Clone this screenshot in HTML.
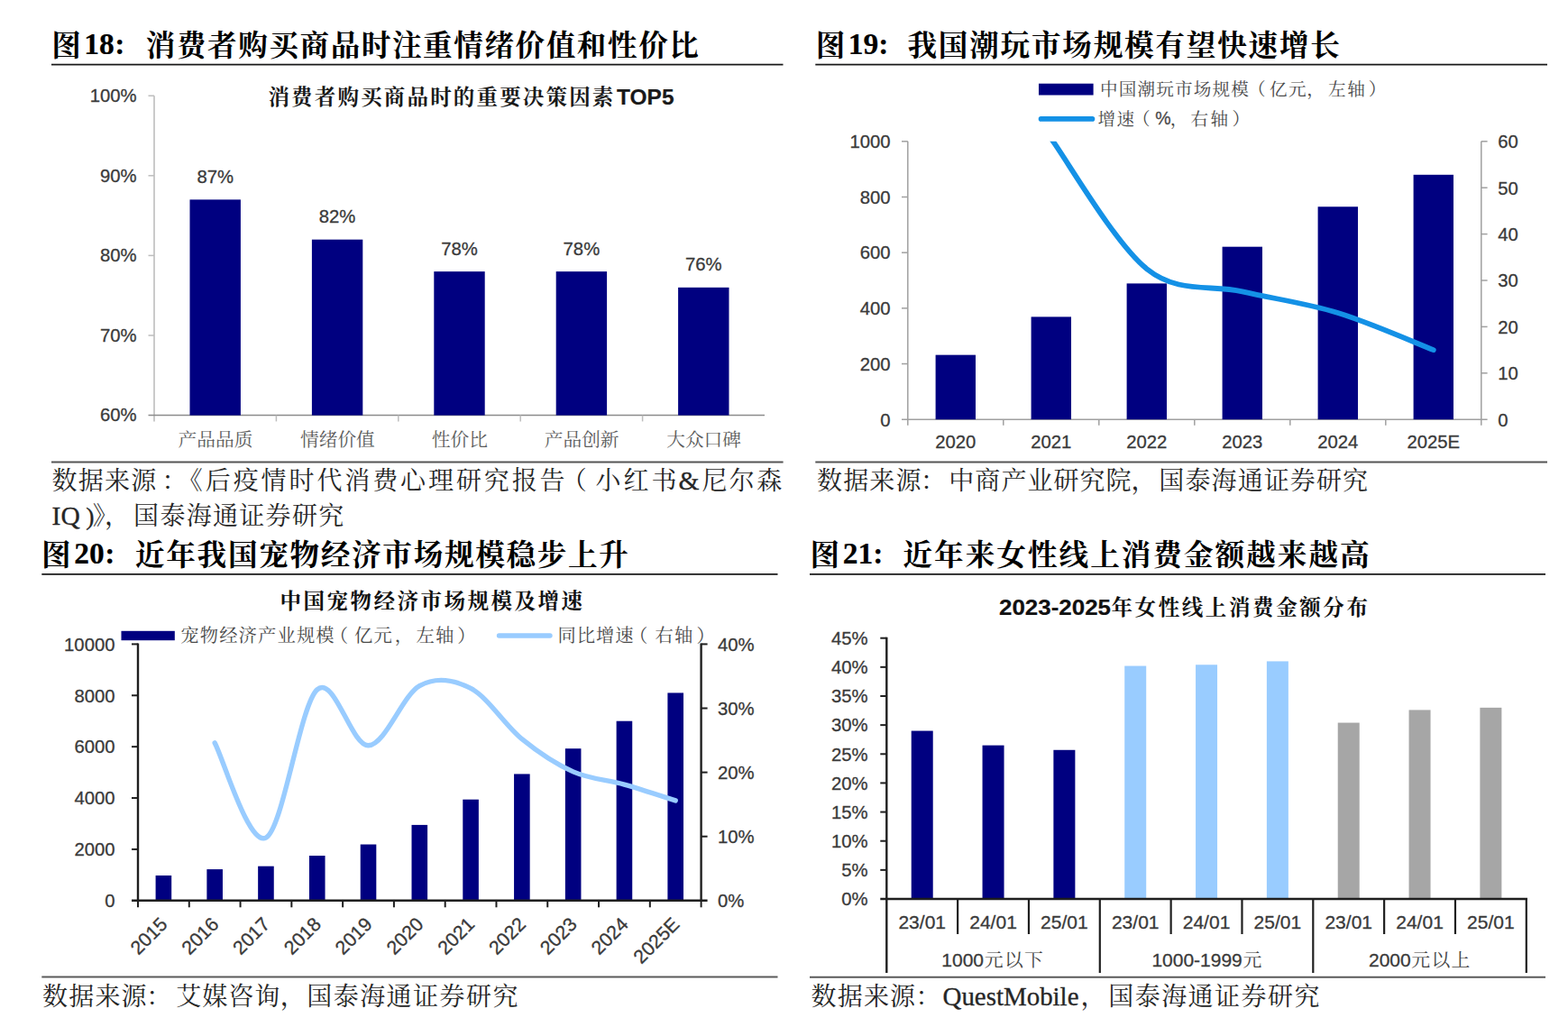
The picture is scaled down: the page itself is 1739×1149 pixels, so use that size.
<!DOCTYPE html>
<html lang="zh-CN">
<head>
<meta charset="utf-8">
<title>消费行业研究图表 图18-图21</title>
<style>
html,body{margin:0;padding:0;background:#fff}
body{width:1739px;height:1149px;position:relative;overflow:hidden;font-family:"Liberation Sans",sans-serif}
svg{position:absolute;left:0;top:0;display:block}
svg text{font-family:"Liberation Sans",sans-serif;white-space:pre}
svg text.cj{font-family:"Liberation Serif","Noto Serif CJK SC",serif}
</style>
</head>
<body>
<svg width="1739" height="1149" viewBox="0 0 1739 1149">
<text class="cj" x="57.16" y="61.6" font-size="32.6" font-weight="bold" fill="#000">图</text>
<text x="93.2" y="60.1" font-size="33.5" fill="#000" font-weight="bold" style="font-family:&quot;Liberation Serif&quot;,serif" stroke="#000" stroke-width=".2">18</text>
<text x="127.3" y="60.1" font-size="33.5" fill="#000" font-weight="bold" style="font-family:&quot;Liberation Serif&quot;,serif" stroke="#000" stroke-width=".2">:</text>
<text class="cj" x="161.78" y="61.6" font-size="32.6" font-weight="bold" fill="#000" letter-spacing="1.57">消费者购买商品时注重情绪价值和性价比</text>
<line x1="57" y1="71.6" x2="868.5" y2="71.6" stroke="#1a1a1a" stroke-width="1.7"/>
<text class="cj" x="297.45" y="116" font-size="23.5" font-weight="bold" fill="#1a1a1a" letter-spacing="2.17">消费者购买商品时的重要决策因素</text>
<text x="684" y="115.6" font-size="23.6" fill="#1a1a1a" font-weight="bold" stroke="#1a1a1a" stroke-width=".2" textLength="63.5" lengthAdjust="spacingAndGlyphs">TOP5</text>
<line x1="171" y1="106.2" x2="171" y2="467.4" stroke="#bdbdbd" stroke-width="1.6"/>
<line x1="164.5" y1="460.6" x2="848" y2="460.6" stroke="#8c8c8c" stroke-width="1.5"/>
<line x1="164.5" y1="106.2" x2="171" y2="106.2" stroke="#bdbdbd" stroke-width="1.5"/>
<text x="151.6" y="113" font-size="20.3" fill="#3a3a3a" text-anchor="end" stroke="#3a3a3a" stroke-width=".3">100%</text>
<line x1="164.5" y1="194.8" x2="171" y2="194.8" stroke="#bdbdbd" stroke-width="1.5"/>
<text x="151.6" y="201.6" font-size="20.3" fill="#3a3a3a" text-anchor="end" stroke="#3a3a3a" stroke-width=".3">90%</text>
<line x1="164.5" y1="283.4" x2="171" y2="283.4" stroke="#bdbdbd" stroke-width="1.5"/>
<text x="151.6" y="290.2" font-size="20.3" fill="#3a3a3a" text-anchor="end" stroke="#3a3a3a" stroke-width=".3">80%</text>
<line x1="164.5" y1="372" x2="171" y2="372" stroke="#bdbdbd" stroke-width="1.5"/>
<text x="151.6" y="378.8" font-size="20.3" fill="#3a3a3a" text-anchor="end" stroke="#3a3a3a" stroke-width=".3">70%</text>
<text x="151.6" y="467.4" font-size="20.3" fill="#3a3a3a" text-anchor="end" stroke="#3a3a3a" stroke-width=".3">60%</text>
<line x1="306.4" y1="460.6" x2="306.4" y2="467.4" stroke="#bdbdbd" stroke-width="1.5"/>
<line x1="441.8" y1="460.6" x2="441.8" y2="467.4" stroke="#bdbdbd" stroke-width="1.5"/>
<line x1="577.2" y1="460.6" x2="577.2" y2="467.4" stroke="#bdbdbd" stroke-width="1.5"/>
<line x1="712.6" y1="460.6" x2="712.6" y2="467.4" stroke="#bdbdbd" stroke-width="1.5"/>
<rect x="210.5" y="221.38" width="56.4" height="239.22" fill="#000080"/>
<text x="238.7" y="202.78" font-size="20.3" fill="#3a3a3a" text-anchor="middle" stroke="#3a3a3a" stroke-width=".3">87%</text>
<text class="cj" x="197.6" y="495" font-size="20.7" fill="#5c5c5c">产品品质</text>
<rect x="345.9" y="265.68" width="56.4" height="194.92" fill="#000080"/>
<text x="374.1" y="247.08" font-size="20.3" fill="#3a3a3a" text-anchor="middle" stroke="#3a3a3a" stroke-width=".3">82%</text>
<text class="cj" x="333" y="495" font-size="20.7" fill="#5c5c5c">情绪价值</text>
<rect x="481.3" y="301.12" width="56.4" height="159.48" fill="#000080"/>
<text x="509.5" y="282.52" font-size="20.3" fill="#3a3a3a" text-anchor="middle" stroke="#3a3a3a" stroke-width=".3">78%</text>
<text class="cj" x="478.75" y="495" font-size="20.7" fill="#5c5c5c">性价比</text>
<rect x="616.7" y="301.12" width="56.4" height="159.48" fill="#000080"/>
<text x="644.9" y="282.52" font-size="20.3" fill="#3a3a3a" text-anchor="middle" stroke="#3a3a3a" stroke-width=".3">78%</text>
<text class="cj" x="603.8" y="495" font-size="20.7" fill="#5c5c5c">产品创新</text>
<rect x="752.1" y="318.84" width="56.4" height="141.76" fill="#000080"/>
<text x="780.3" y="300.24" font-size="20.3" fill="#3a3a3a" text-anchor="middle" stroke="#3a3a3a" stroke-width=".3">76%</text>
<text class="cj" x="739.2" y="495" font-size="20.7" fill="#5c5c5c">大众口碑</text>
<line x1="57" y1="512.5" x2="868.6" y2="512.5" stroke="#555" stroke-width="2"/>
<text class="cj" x="57.6" y="543.3" font-size="28" fill="#262626" letter-spacing="1.2">数据来源</text>
<text class="cj" x="179.53" y="543.3" font-size="28" fill="#262626">：</text>
<text class="cj" x="196.77" y="543.3" font-size="28" fill="#262626">《</text>
<text class="cj" x="227.8" y="543.3" font-size="28" fill="#262626" letter-spacing="2.9">后疫情时代消费心理研究报告</text>
<text class="cj" x="622.85" y="543.3" font-size="28" fill="#262626">（</text>
<text class="cj" x="660.5" y="543.3" font-size="28" fill="#262626" letter-spacing="3">小红书</text>
<text x="752.5" y="543.3" font-size="29.5" fill="#262626" style="font-family:&quot;Liberation Serif&quot;,serif" stroke="#262626" stroke-width=".3">&amp;</text>
<text class="cj" x="778.4" y="543.3" font-size="28" fill="#262626" letter-spacing="2.4">尼尔森</text>
<text x="57.6" y="581.6" font-size="29.5" fill="#262626" style="font-family:&quot;Liberation Serif&quot;,serif" stroke="#262626" stroke-width=".3">IQ</text>
<text x="95.2" y="581.6" font-size="28" fill="#262626" style="font-family:&quot;Liberation Serif&quot;,serif" stroke="#262626" stroke-width=".3">)</text>
<text class="cj" x="102.87" y="581.6" font-size="28" fill="#262626">》</text>
<text class="cj" x="116.09" y="581.6" font-size="28" fill="#262626">，</text>
<text class="cj" x="148.1" y="581.6" font-size="28" fill="#262626" letter-spacing="1.3">国泰海通证券研究</text>
<text class="cj" x="904.66" y="61.6" font-size="32.6" font-weight="bold" fill="#000">图</text>
<text x="940.8" y="60.1" font-size="33.5" fill="#000" font-weight="bold" style="font-family:&quot;Liberation Serif&quot;,serif" stroke="#000" stroke-width=".2">19</text>
<text x="974.3" y="60.1" font-size="33.5" fill="#000" font-weight="bold" style="font-family:&quot;Liberation Serif&quot;,serif" stroke="#000" stroke-width=".2">:</text>
<text class="cj" x="1006.39" y="61.6" font-size="32.6" font-weight="bold" fill="#000" letter-spacing="1.8">我国潮玩市场规模有望快速增长</text>
<line x1="904.3" y1="71.7" x2="1716" y2="71.7" stroke="#1a1a1a" stroke-width="1.7"/>
<rect x="1152" y="92.7" width="60.6" height="12.8" fill="#000080"/>
<text class="cj" x="1220" y="106" font-size="19.6" fill="#4a4a4a" letter-spacing="1.15">中国潮玩市场规模</text>
<text class="cj" x="1383.9" y="106" font-size="19.6" fill="#4a4a4a">（</text>
<text class="cj" x="1408" y="106" font-size="19.6" fill="#4a4a4a" letter-spacing="1.3">亿元</text>
<text class="cj" x="1449.32" y="106" font-size="19.6" fill="#4a4a4a">，</text>
<text class="cj" x="1473" y="106" font-size="19.6" fill="#4a4a4a" letter-spacing="1.7">左轴</text>
<text class="cj" x="1517.67" y="106" font-size="19.6" fill="#4a4a4a">）</text>
<path d="M1154.5 131.9H1211.5" fill="none" stroke="#1491e6" stroke-width="5.6" stroke-linecap="round" stroke-linejoin="round"/>
<text class="cj" x="1217.5" y="138.5" font-size="19.6" fill="#4a4a4a" letter-spacing="1.4">增速</text>
<text class="cj" x="1255.9" y="138.5" font-size="19.6" fill="#4a4a4a">（</text>
<text x="1281.3" y="138.2" font-size="19.5" fill="#4a4a4a" stroke="#4a4a4a" stroke-width=".3">%</text>
<text class="cj" x="1297.82" y="138.5" font-size="19.6" fill="#4a4a4a">，</text>
<text class="cj" x="1320.5" y="138.5" font-size="19.6" fill="#4a4a4a" letter-spacing="2.4">右轴</text>
<text class="cj" x="1366.47" y="138.5" font-size="19.6" fill="#4a4a4a">）</text>
<line x1="1006.8" y1="156.8" x2="1006.8" y2="471.7" stroke="#a0a0a0" stroke-width="1.5"/>
<line x1="1642.8" y1="156.8" x2="1642.8" y2="471.7" stroke="#a0a0a0" stroke-width="1.5"/>
<line x1="1000" y1="465.2" x2="1649.6" y2="465.2" stroke="#a0a0a0" stroke-width="1.5"/>
<text x="987.6" y="472.5" font-size="20.3" fill="#3a3a3a" text-anchor="end" stroke="#3a3a3a" stroke-width=".3">0</text>
<line x1="1000" y1="403.52" x2="1006.8" y2="403.52" stroke="#a0a0a0" stroke-width="1.5"/>
<text x="987.6" y="410.82" font-size="20.3" fill="#3a3a3a" text-anchor="end" stroke="#3a3a3a" stroke-width=".3">200</text>
<line x1="1000" y1="341.84" x2="1006.8" y2="341.84" stroke="#a0a0a0" stroke-width="1.5"/>
<text x="987.6" y="349.14" font-size="20.3" fill="#3a3a3a" text-anchor="end" stroke="#3a3a3a" stroke-width=".3">400</text>
<line x1="1000" y1="280.16" x2="1006.8" y2="280.16" stroke="#a0a0a0" stroke-width="1.5"/>
<text x="987.6" y="287.46" font-size="20.3" fill="#3a3a3a" text-anchor="end" stroke="#3a3a3a" stroke-width=".3">600</text>
<line x1="1000" y1="218.48" x2="1006.8" y2="218.48" stroke="#a0a0a0" stroke-width="1.5"/>
<text x="987.6" y="225.78" font-size="20.3" fill="#3a3a3a" text-anchor="end" stroke="#3a3a3a" stroke-width=".3">800</text>
<line x1="1000" y1="156.8" x2="1006.8" y2="156.8" stroke="#a0a0a0" stroke-width="1.5"/>
<text x="987.6" y="164.1" font-size="20.3" fill="#3a3a3a" text-anchor="end" stroke="#3a3a3a" stroke-width=".3">1000</text>
<text x="1661.3" y="472.5" font-size="20.3" fill="#3a3a3a" stroke="#3a3a3a" stroke-width=".3">0</text>
<line x1="1642.8" y1="413.8" x2="1649.6" y2="413.8" stroke="#a0a0a0" stroke-width="1.5"/>
<text x="1661.3" y="421.1" font-size="20.3" fill="#3a3a3a" stroke="#3a3a3a" stroke-width=".3">10</text>
<line x1="1642.8" y1="362.4" x2="1649.6" y2="362.4" stroke="#a0a0a0" stroke-width="1.5"/>
<text x="1661.3" y="369.7" font-size="20.3" fill="#3a3a3a" stroke="#3a3a3a" stroke-width=".3">20</text>
<line x1="1642.8" y1="311" x2="1649.6" y2="311" stroke="#a0a0a0" stroke-width="1.5"/>
<text x="1661.3" y="318.3" font-size="20.3" fill="#3a3a3a" stroke="#3a3a3a" stroke-width=".3">30</text>
<line x1="1642.8" y1="259.6" x2="1649.6" y2="259.6" stroke="#a0a0a0" stroke-width="1.5"/>
<text x="1661.3" y="266.9" font-size="20.3" fill="#3a3a3a" stroke="#3a3a3a" stroke-width=".3">40</text>
<line x1="1642.8" y1="208.2" x2="1649.6" y2="208.2" stroke="#a0a0a0" stroke-width="1.5"/>
<text x="1661.3" y="215.5" font-size="20.3" fill="#3a3a3a" stroke="#3a3a3a" stroke-width=".3">50</text>
<line x1="1642.8" y1="156.8" x2="1649.6" y2="156.8" stroke="#a0a0a0" stroke-width="1.5"/>
<text x="1661.3" y="164.1" font-size="20.3" fill="#3a3a3a" stroke="#3a3a3a" stroke-width=".3">60</text>
<line x1="1112.8" y1="465.2" x2="1112.8" y2="471.7" stroke="#a0a0a0" stroke-width="1.5"/>
<line x1="1218.8" y1="465.2" x2="1218.8" y2="471.7" stroke="#a0a0a0" stroke-width="1.5"/>
<line x1="1324.8" y1="465.2" x2="1324.8" y2="471.7" stroke="#a0a0a0" stroke-width="1.5"/>
<line x1="1430.8" y1="465.2" x2="1430.8" y2="471.7" stroke="#a0a0a0" stroke-width="1.5"/>
<line x1="1536.8" y1="465.2" x2="1536.8" y2="471.7" stroke="#a0a0a0" stroke-width="1.5"/>
<rect x="1037.6" y="393.65" width="44.4" height="71.55" fill="#000080"/>
<text x="1059.8" y="497.4" font-size="20.3" fill="#3a3a3a" text-anchor="middle" stroke="#3a3a3a" stroke-width=".3">2020</text>
<rect x="1143.6" y="351.4" width="44.4" height="113.8" fill="#000080"/>
<text x="1165.8" y="497.4" font-size="20.3" fill="#3a3a3a" text-anchor="middle" stroke="#3a3a3a" stroke-width=".3">2021</text>
<rect x="1249.6" y="314.39" width="44.4" height="150.81" fill="#000080"/>
<text x="1271.8" y="497.4" font-size="20.3" fill="#3a3a3a" text-anchor="middle" stroke="#3a3a3a" stroke-width=".3">2022</text>
<rect x="1355.6" y="273.68" width="44.4" height="191.52" fill="#000080"/>
<text x="1377.8" y="497.4" font-size="20.3" fill="#3a3a3a" text-anchor="middle" stroke="#3a3a3a" stroke-width=".3">2023</text>
<rect x="1461.6" y="229.27" width="44.4" height="235.93" fill="#000080"/>
<text x="1483.8" y="497.4" font-size="20.3" fill="#3a3a3a" text-anchor="middle" stroke="#3a3a3a" stroke-width=".3">2024</text>
<rect x="1567.6" y="193.81" width="44.4" height="271.39" fill="#000080"/>
<text x="1589.8" y="497.4" font-size="20.3" fill="#3a3a3a" text-anchor="middle" stroke="#3a3a3a" stroke-width=".3">2025E</text>
<clipPath id="c19"><rect x="1000" y="156.8" width="650" height="320"/></clipPath>
<path d="M1165.8 153.72C1183.47 177.79 1236.47 269.88 1271.8 298.15C1307.13 326.42 1342.47 315.2 1377.8 323.34C1413.13 331.47 1448.47 336.19 1483.8 346.98C1519.13 357.77 1572.13 381.25 1589.8 388.1" fill="none" stroke="#1491e6" stroke-width="5.8" stroke-linecap="round" stroke-linejoin="round" clip-path="url(#c19)"/>
<line x1="904.3" y1="512.4" x2="1716" y2="512.4" stroke="#555" stroke-width="2"/>
<text class="cj" x="906" y="543.3" font-size="28" fill="#262626" letter-spacing="1.17">数据来源</text>
<text class="cj" x="1020.93" y="543.3" font-size="28" fill="#262626">：</text>
<text class="cj" x="1052.3" y="543.3" font-size="28" fill="#262626" letter-spacing="1.05">中商产业研究院</text>
<text class="cj" x="1254.39" y="543.3" font-size="28" fill="#262626">，</text>
<text class="cj" x="1285.3" y="543.3" font-size="28" fill="#262626" letter-spacing="1.11">国泰海通证券研究</text>
<text class="cj" x="46.06" y="626.6" font-size="32.6" font-weight="bold" fill="#000">图</text>
<text x="82.2" y="625.1" font-size="33.5" fill="#000" font-weight="bold" style="font-family:&quot;Liberation Serif&quot;,serif" stroke="#000" stroke-width=".2">20</text>
<text x="116.3" y="625.1" font-size="33.5" fill="#000" font-weight="bold" style="font-family:&quot;Liberation Serif&quot;,serif" stroke="#000" stroke-width=".2">:</text>
<text class="cj" x="150.06" y="626.6" font-size="32.6" font-weight="bold" fill="#000" letter-spacing="1.71">近年我国宠物经济市场规模稳步上升</text>
<line x1="46.3" y1="636.8" x2="862.5" y2="636.8" stroke="#1a1a1a" stroke-width="1.7"/>
<text class="cj" x="310.45" y="675.3" font-size="23.5" font-weight="bold" fill="#111" letter-spacing="2.5">中国宠物经济市场规模及增速</text>
<rect x="134.5" y="699.8" width="59.3" height="10.4" fill="#000080"/>
<text class="cj" x="200.3" y="712" font-size="20.3" fill="#4a4a4a" letter-spacing="1.15">宠物经济产业规模</text>
<text class="cj" x="365.81" y="712" font-size="20.3" fill="#4a4a4a">（</text>
<text class="cj" x="393" y="712" font-size="20.3" fill="#4a4a4a" letter-spacing="1.3">亿元</text>
<text class="cj" x="437.75" y="712" font-size="20.3" fill="#4a4a4a">，</text>
<text class="cj" x="461.6" y="712" font-size="20.3" fill="#4a4a4a" letter-spacing="1.2">左轴</text>
<text class="cj" x="507.32" y="712" font-size="20.3" fill="#4a4a4a">）</text>
<path d="M553.5 705H610" fill="none" stroke="#99ccff" stroke-width="5.4" stroke-linecap="round" stroke-linejoin="round"/>
<text class="cj" x="618.5" y="712" font-size="20.3" fill="#4a4a4a" letter-spacing="1">同比增速</text>
<text class="cj" x="698.11" y="712" font-size="20.3" fill="#4a4a4a">（</text>
<text class="cj" x="726.5" y="712" font-size="20.3" fill="#4a4a4a" letter-spacing="1.2">右轴</text>
<text class="cj" x="772.42" y="712" font-size="20.3" fill="#4a4a4a">）</text>
<rect x="172.59" y="970.99" width="17.6" height="27.81" fill="#000080"/>
<rect x="229.37" y="964.1" width="17.6" height="34.7" fill="#000080"/>
<rect x="286.15" y="960.69" width="17.6" height="38.11" fill="#000080"/>
<rect x="342.94" y="949.03" width="17.6" height="49.77" fill="#000080"/>
<rect x="399.72" y="936.52" width="17.6" height="62.28" fill="#000080"/>
<rect x="456.5" y="914.9" width="17.6" height="83.9" fill="#000080"/>
<rect x="513.28" y="886.69" width="17.6" height="112.11" fill="#000080"/>
<rect x="570.06" y="858.42" width="17.6" height="140.38" fill="#000080"/>
<rect x="626.85" y="830.21" width="17.6" height="168.59" fill="#000080"/>
<rect x="683.63" y="799.72" width="17.6" height="199.08" fill="#000080"/>
<rect x="740.41" y="768.44" width="17.6" height="230.36" fill="#000080"/>
<path d="M238.17 823.89C247.64 841.43 276.03 938.96 294.95 929.12C313.88 919.29 332.81 781.94 351.74 764.88C370.66 747.82 389.59 827.45 408.52 826.74C427.45 826.03 446.37 771.16 465.3 760.62C484.23 750.07 503.15 753.62 522.08 763.46C541.01 773.29 559.94 804.22 578.86 819.63C597.79 835.03 616.72 847.48 635.65 855.89C654.57 864.3 673.5 864.78 692.43 870.11C711.35 875.44 739.75 884.92 749.21 887.88" fill="none" stroke="#99ccff" stroke-width="5.4" stroke-linecap="round" stroke-linejoin="round"/>
<line x1="153" y1="713.4" x2="153" y2="1000" stroke="#1f1f1f" stroke-width="2.4"/>
<line x1="777.6" y1="713.4" x2="777.6" y2="1000" stroke="#1f1f1f" stroke-width="2.4"/>
<line x1="146" y1="998.8" x2="784.6" y2="998.8" stroke="#1f1f1f" stroke-width="2.6"/>
<text x="127.5" y="1006.1" font-size="20.3" fill="#3a3a3a" text-anchor="end" stroke="#3a3a3a" stroke-width=".3">0</text>
<line x1="146" y1="941.92" x2="153" y2="941.92" stroke="#1f1f1f" stroke-width="2"/>
<text x="127.5" y="949.22" font-size="20.3" fill="#3a3a3a" text-anchor="end" stroke="#3a3a3a" stroke-width=".3">2000</text>
<line x1="146" y1="885.04" x2="153" y2="885.04" stroke="#1f1f1f" stroke-width="2"/>
<text x="127.5" y="892.34" font-size="20.3" fill="#3a3a3a" text-anchor="end" stroke="#3a3a3a" stroke-width=".3">4000</text>
<line x1="146" y1="828.16" x2="153" y2="828.16" stroke="#1f1f1f" stroke-width="2"/>
<text x="127.5" y="835.46" font-size="20.3" fill="#3a3a3a" text-anchor="end" stroke="#3a3a3a" stroke-width=".3">6000</text>
<line x1="146" y1="771.28" x2="153" y2="771.28" stroke="#1f1f1f" stroke-width="2"/>
<text x="127.5" y="778.58" font-size="20.3" fill="#3a3a3a" text-anchor="end" stroke="#3a3a3a" stroke-width=".3">8000</text>
<line x1="146" y1="714.4" x2="153" y2="714.4" stroke="#1f1f1f" stroke-width="2"/>
<text x="127.5" y="721.7" font-size="20.3" fill="#3a3a3a" text-anchor="end" stroke="#3a3a3a" stroke-width=".3">10000</text>
<text x="796" y="1006.1" font-size="20.3" fill="#3a3a3a" stroke="#3a3a3a" stroke-width=".3">0%</text>
<line x1="777.6" y1="927.7" x2="784.6" y2="927.7" stroke="#1f1f1f" stroke-width="2"/>
<text x="796" y="935" font-size="20.3" fill="#3a3a3a" stroke="#3a3a3a" stroke-width=".3">10%</text>
<line x1="777.6" y1="856.6" x2="784.6" y2="856.6" stroke="#1f1f1f" stroke-width="2"/>
<text x="796" y="863.9" font-size="20.3" fill="#3a3a3a" stroke="#3a3a3a" stroke-width=".3">20%</text>
<line x1="777.6" y1="785.5" x2="784.6" y2="785.5" stroke="#1f1f1f" stroke-width="2"/>
<text x="796" y="792.8" font-size="20.3" fill="#3a3a3a" stroke="#3a3a3a" stroke-width=".3">30%</text>
<line x1="777.6" y1="714.4" x2="784.6" y2="714.4" stroke="#1f1f1f" stroke-width="2"/>
<text x="796" y="721.7" font-size="20.3" fill="#3a3a3a" stroke="#3a3a3a" stroke-width=".3">40%</text>
<line x1="153" y1="998.8" x2="153" y2="1006.3" stroke="#1f1f1f" stroke-width="2"/>
<line x1="209.78" y1="998.8" x2="209.78" y2="1006.3" stroke="#1f1f1f" stroke-width="2"/>
<line x1="266.56" y1="998.8" x2="266.56" y2="1006.3" stroke="#1f1f1f" stroke-width="2"/>
<line x1="323.35" y1="998.8" x2="323.35" y2="1006.3" stroke="#1f1f1f" stroke-width="2"/>
<line x1="380.13" y1="998.8" x2="380.13" y2="1006.3" stroke="#1f1f1f" stroke-width="2"/>
<line x1="436.91" y1="998.8" x2="436.91" y2="1006.3" stroke="#1f1f1f" stroke-width="2"/>
<line x1="493.69" y1="998.8" x2="493.69" y2="1006.3" stroke="#1f1f1f" stroke-width="2"/>
<line x1="550.47" y1="998.8" x2="550.47" y2="1006.3" stroke="#1f1f1f" stroke-width="2"/>
<line x1="607.25" y1="998.8" x2="607.25" y2="1006.3" stroke="#1f1f1f" stroke-width="2"/>
<line x1="664.04" y1="998.8" x2="664.04" y2="1006.3" stroke="#1f1f1f" stroke-width="2"/>
<line x1="720.82" y1="998.8" x2="720.82" y2="1006.3" stroke="#1f1f1f" stroke-width="2"/>
<line x1="777.6" y1="998.8" x2="777.6" y2="1006.3" stroke="#1f1f1f" stroke-width="2"/>
<text x="0" y="0" font-size="21.3" fill="#3a3a3a" text-anchor="end" stroke="#3a3a3a" stroke-width=".3" transform="translate(186.99 1026.4) rotate(-45)">2015</text>
<text x="0" y="0" font-size="21.3" fill="#3a3a3a" text-anchor="end" stroke="#3a3a3a" stroke-width=".3" transform="translate(243.77 1026.4) rotate(-45)">2016</text>
<text x="0" y="0" font-size="21.3" fill="#3a3a3a" text-anchor="end" stroke="#3a3a3a" stroke-width=".3" transform="translate(300.55 1026.4) rotate(-45)">2017</text>
<text x="0" y="0" font-size="21.3" fill="#3a3a3a" text-anchor="end" stroke="#3a3a3a" stroke-width=".3" transform="translate(357.34 1026.4) rotate(-45)">2018</text>
<text x="0" y="0" font-size="21.3" fill="#3a3a3a" text-anchor="end" stroke="#3a3a3a" stroke-width=".3" transform="translate(414.12 1026.4) rotate(-45)">2019</text>
<text x="0" y="0" font-size="21.3" fill="#3a3a3a" text-anchor="end" stroke="#3a3a3a" stroke-width=".3" transform="translate(470.9 1026.4) rotate(-45)">2020</text>
<text x="0" y="0" font-size="21.3" fill="#3a3a3a" text-anchor="end" stroke="#3a3a3a" stroke-width=".3" transform="translate(527.68 1026.4) rotate(-45)">2021</text>
<text x="0" y="0" font-size="21.3" fill="#3a3a3a" text-anchor="end" stroke="#3a3a3a" stroke-width=".3" transform="translate(584.46 1026.4) rotate(-45)">2022</text>
<text x="0" y="0" font-size="21.3" fill="#3a3a3a" text-anchor="end" stroke="#3a3a3a" stroke-width=".3" transform="translate(641.25 1026.4) rotate(-45)">2023</text>
<text x="0" y="0" font-size="21.3" fill="#3a3a3a" text-anchor="end" stroke="#3a3a3a" stroke-width=".3" transform="translate(698.03 1026.4) rotate(-45)">2024</text>
<text x="0" y="0" font-size="21.3" fill="#3a3a3a" text-anchor="end" stroke="#3a3a3a" stroke-width=".3" transform="translate(754.81 1026.4) rotate(-45)">2025E</text>
<line x1="46.3" y1="1083.4" x2="862.5" y2="1083.4" stroke="#5a5a5a" stroke-width="2"/>
<text class="cj" x="47" y="1114.8" font-size="28" fill="#262626" letter-spacing="1.2">数据来源</text>
<text class="cj" x="162.13" y="1114.8" font-size="28" fill="#262626">：</text>
<text class="cj" x="195.3" y="1114.8" font-size="28" fill="#262626" letter-spacing="1">艾媒咨询</text>
<text class="cj" x="310.69" y="1114.8" font-size="28" fill="#262626">，</text>
<text class="cj" x="340.3" y="1114.8" font-size="28" fill="#262626" letter-spacing="1.44">国泰海通证券研究</text>
<text class="cj" x="898.46" y="626.6" font-size="32.6" font-weight="bold" fill="#000">图</text>
<text x="934.7" y="625.1" font-size="33.5" fill="#000" font-weight="bold" style="font-family:&quot;Liberation Serif&quot;,serif" stroke="#000" stroke-width=".2">21</text>
<text x="968.3" y="625.1" font-size="33.5" fill="#000" font-weight="bold" style="font-family:&quot;Liberation Serif&quot;,serif" stroke="#000" stroke-width=".2">:</text>
<text class="cj" x="1001.46" y="626.6" font-size="32.6" font-weight="bold" fill="#000" letter-spacing="2.04">近年来女性线上消费金额越来越高</text>
<line x1="898" y1="636.8" x2="1714" y2="636.8" stroke="#1a1a1a" stroke-width="1.7"/>
<text x="1108" y="681.8" font-size="23.6" fill="#111" font-weight="bold" stroke="#111" stroke-width=".2" textLength="124" lengthAdjust="spacingAndGlyphs">2023-2025</text>
<text class="cj" x="1232.45" y="682" font-size="23.5" font-weight="bold" fill="#111" letter-spacing="2.6">年女性线上消费金额分布</text>
<rect x="1010.72" y="810.56" width="24" height="186.44" fill="#000080"/>
<text x="1022.72" y="1030" font-size="21" fill="#3a3a3a" text-anchor="middle" stroke="#3a3a3a" stroke-width=".3">23/01</text>
<rect x="1089.55" y="826.63" width="24" height="170.37" fill="#000080"/>
<text x="1101.55" y="1030" font-size="21" fill="#3a3a3a" text-anchor="middle" stroke="#3a3a3a" stroke-width=".3">24/01</text>
<rect x="1168.38" y="831.78" width="24" height="165.22" fill="#000080"/>
<text x="1180.38" y="1030" font-size="21" fill="#3a3a3a" text-anchor="middle" stroke="#3a3a3a" stroke-width=".3">25/01</text>
<rect x="1247.22" y="738.56" width="24" height="258.44" fill="#99ccff"/>
<text x="1259.22" y="1030" font-size="21" fill="#3a3a3a" text-anchor="middle" stroke="#3a3a3a" stroke-width=".3">23/01</text>
<rect x="1326.05" y="737.27" width="24" height="259.73" fill="#99ccff"/>
<text x="1338.05" y="1030" font-size="21" fill="#3a3a3a" text-anchor="middle" stroke="#3a3a3a" stroke-width=".3">24/01</text>
<rect x="1404.88" y="733.42" width="24" height="263.58" fill="#99ccff"/>
<text x="1416.88" y="1030" font-size="21" fill="#3a3a3a" text-anchor="middle" stroke="#3a3a3a" stroke-width=".3">25/01</text>
<rect x="1483.72" y="801.56" width="24" height="195.44" fill="#a6a6a6"/>
<text x="1495.72" y="1030" font-size="21" fill="#3a3a3a" text-anchor="middle" stroke="#3a3a3a" stroke-width=".3">23/01</text>
<rect x="1562.55" y="787.42" width="24" height="209.58" fill="#a6a6a6"/>
<text x="1574.55" y="1030" font-size="21" fill="#3a3a3a" text-anchor="middle" stroke="#3a3a3a" stroke-width=".3">24/01</text>
<rect x="1641.38" y="784.85" width="24" height="212.15" fill="#a6a6a6"/>
<text x="1653.38" y="1030" font-size="21" fill="#3a3a3a" text-anchor="middle" stroke="#3a3a3a" stroke-width=".3">25/01</text>
<line x1="983.3" y1="706.7" x2="983.3" y2="1079" stroke="#1f1f1f" stroke-width="2.4"/>
<line x1="976.3" y1="997" x2="1694" y2="997" stroke="#1f1f1f" stroke-width="2.6"/>
<text x="962.5" y="1004.3" font-size="20.3" fill="#3a3a3a" text-anchor="end" stroke="#3a3a3a" stroke-width=".3">0%</text>
<line x1="976.3" y1="964.86" x2="983.3" y2="964.86" stroke="#1f1f1f" stroke-width="2"/>
<text x="962.5" y="972.16" font-size="20.3" fill="#3a3a3a" text-anchor="end" stroke="#3a3a3a" stroke-width=".3">5%</text>
<line x1="976.3" y1="932.71" x2="983.3" y2="932.71" stroke="#1f1f1f" stroke-width="2"/>
<text x="962.5" y="940.01" font-size="20.3" fill="#3a3a3a" text-anchor="end" stroke="#3a3a3a" stroke-width=".3">10%</text>
<line x1="976.3" y1="900.57" x2="983.3" y2="900.57" stroke="#1f1f1f" stroke-width="2"/>
<text x="962.5" y="907.87" font-size="20.3" fill="#3a3a3a" text-anchor="end" stroke="#3a3a3a" stroke-width=".3">15%</text>
<line x1="976.3" y1="868.42" x2="983.3" y2="868.42" stroke="#1f1f1f" stroke-width="2"/>
<text x="962.5" y="875.72" font-size="20.3" fill="#3a3a3a" text-anchor="end" stroke="#3a3a3a" stroke-width=".3">20%</text>
<line x1="976.3" y1="836.28" x2="983.3" y2="836.28" stroke="#1f1f1f" stroke-width="2"/>
<text x="962.5" y="843.58" font-size="20.3" fill="#3a3a3a" text-anchor="end" stroke="#3a3a3a" stroke-width=".3">25%</text>
<line x1="976.3" y1="804.13" x2="983.3" y2="804.13" stroke="#1f1f1f" stroke-width="2"/>
<text x="962.5" y="811.43" font-size="20.3" fill="#3a3a3a" text-anchor="end" stroke="#3a3a3a" stroke-width=".3">30%</text>
<line x1="976.3" y1="771.99" x2="983.3" y2="771.99" stroke="#1f1f1f" stroke-width="2"/>
<text x="962.5" y="779.29" font-size="20.3" fill="#3a3a3a" text-anchor="end" stroke="#3a3a3a" stroke-width=".3">35%</text>
<line x1="976.3" y1="739.84" x2="983.3" y2="739.84" stroke="#1f1f1f" stroke-width="2"/>
<text x="962.5" y="747.14" font-size="20.3" fill="#3a3a3a" text-anchor="end" stroke="#3a3a3a" stroke-width=".3">40%</text>
<line x1="976.3" y1="707.7" x2="983.3" y2="707.7" stroke="#1f1f1f" stroke-width="2"/>
<text x="962.5" y="715" font-size="20.3" fill="#3a3a3a" text-anchor="end" stroke="#3a3a3a" stroke-width=".3">45%</text>
<line x1="1062.13" y1="997" x2="1062.13" y2="1036" stroke="#1f1f1f" stroke-width="2.2"/>
<line x1="1140.97" y1="997" x2="1140.97" y2="1036" stroke="#1f1f1f" stroke-width="2.2"/>
<line x1="1219.8" y1="997" x2="1219.8" y2="1079" stroke="#1f1f1f" stroke-width="2.2"/>
<line x1="1298.63" y1="997" x2="1298.63" y2="1036" stroke="#1f1f1f" stroke-width="2.2"/>
<line x1="1377.47" y1="997" x2="1377.47" y2="1036" stroke="#1f1f1f" stroke-width="2.2"/>
<line x1="1456.3" y1="997" x2="1456.3" y2="1079" stroke="#1f1f1f" stroke-width="2.2"/>
<line x1="1535.13" y1="997" x2="1535.13" y2="1036" stroke="#1f1f1f" stroke-width="2.2"/>
<line x1="1613.97" y1="997" x2="1613.97" y2="1036" stroke="#1f1f1f" stroke-width="2.2"/>
<line x1="1692.8" y1="997" x2="1692.8" y2="1079" stroke="#1f1f1f" stroke-width="2.2"/>
<text x="1044.3" y="1072" font-size="21" fill="#3a3a3a" stroke="#3a3a3a" stroke-width=".3" textLength="46.7" lengthAdjust="spacingAndGlyphs">1000</text>
<text class="cj" x="1091.8" y="1072" font-size="20.8" fill="#444" letter-spacing="1.3">元以下</text>
<text x="1277.4" y="1072" font-size="21" fill="#3a3a3a" stroke="#3a3a3a" stroke-width=".3" textLength="100.4" lengthAdjust="spacingAndGlyphs">1000-1999</text>
<text class="cj" x="1378.44" y="1072" font-size="20.8" fill="#444">元</text>
<text x="1518" y="1072" font-size="21" fill="#3a3a3a" stroke="#3a3a3a" stroke-width=".3" textLength="46.7" lengthAdjust="spacingAndGlyphs">2000</text>
<text class="cj" x="1565.3" y="1072" font-size="20.8" fill="#444" letter-spacing="1.3">元以上</text>
<line x1="898" y1="1083.8" x2="1714" y2="1083.8" stroke="#5a5a5a" stroke-width="2"/>
<text class="cj" x="899.5" y="1114.8" font-size="28" fill="#262626" letter-spacing="1.2">数据来源</text>
<text class="cj" x="1015.43" y="1114.8" font-size="28" fill="#262626">：</text>
<text x="1045.5" y="1114.8" font-size="29.5" fill="#262626" style="font-family:&quot;Liberation Serif&quot;,serif" stroke="#262626" stroke-width=".3" textLength="151" lengthAdjust="spacingAndGlyphs">QuestMobile</text>
<text class="cj" x="1198.39" y="1114.8" font-size="28" fill="#262626">，</text>
<text class="cj" x="1229.3" y="1114.8" font-size="28" fill="#262626" letter-spacing="1.44">国泰海通证券研究</text>
</svg>
</body>
</html>
